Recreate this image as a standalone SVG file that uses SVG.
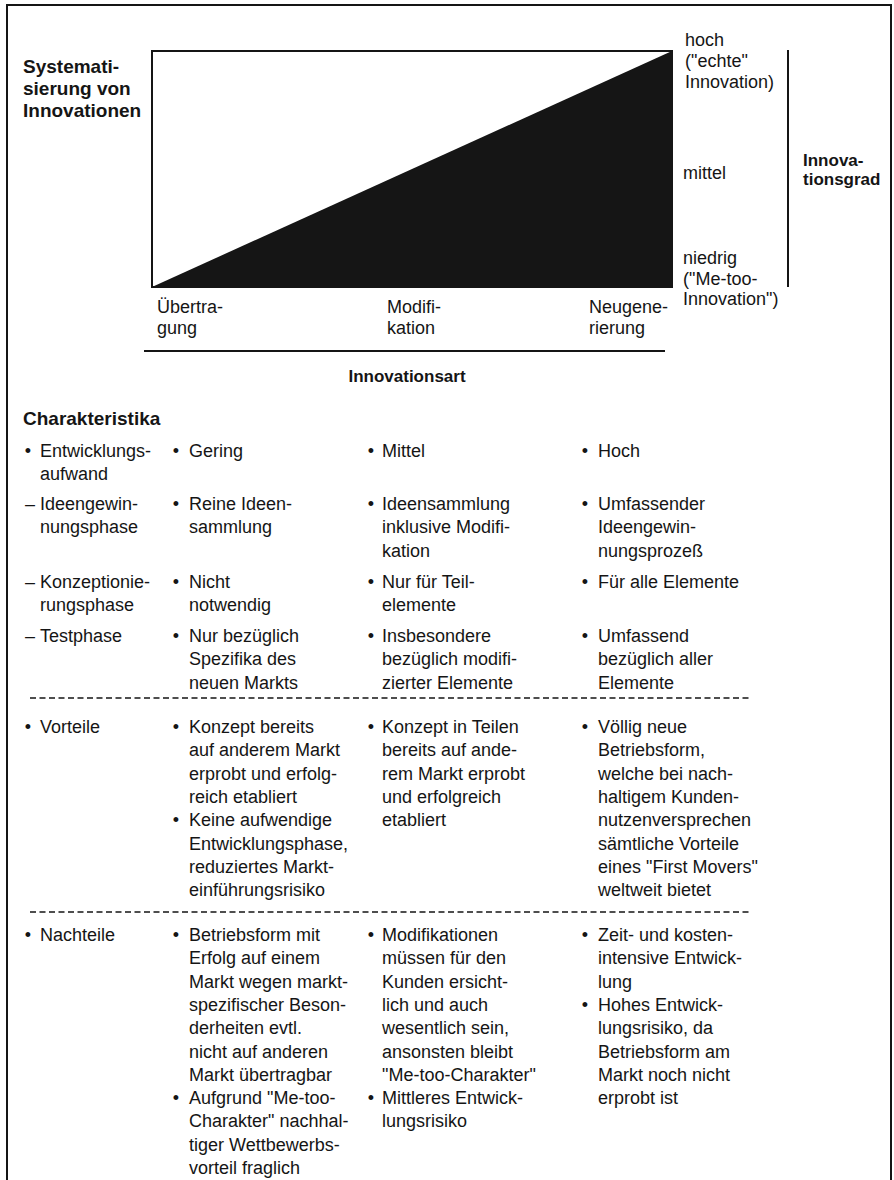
<svg xmlns="http://www.w3.org/2000/svg" width="894" height="1180" viewBox="0 0 894 1180">
<style>
text{font-family:"Liberation Sans",Arial,Helvetica,sans-serif;font-size:18px;fill:#151515}
.b{font-weight:bold}
.h1{font-size:19px;font-weight:bold}
.h2{font-size:17px;font-weight:bold}
.ln{stroke:#151515;stroke-width:2;fill:none}
.dash{stroke:#151515;stroke-width:1.5;stroke-dasharray:6 3.5;fill:none}
.bu{text-anchor:middle}
</style>
<rect x="0" y="0" width="894" height="1180" fill="#fff"/>
<g id="frame">
<path class="ln" d="M7,1180 V5 H891 V1180"/>
</g>
<g id="chart">
<rect x="152" y="51" width="520" height="236" class="ln"/>
<polygon points="152,287 672,51 672,287" fill="#151515"/>
</g>
<g id="title">
<text class="h1" x="23" y="73">Systemati-</text>
<text class="h1" x="23" y="95">sierung von</text>
<text class="h1" x="23" y="117">Innovationen</text>
</g>
<g id="degree-labels">
<text x="685" y="46">hoch</text>
<text x="685" y="67">("echte"</text>
<text x="685" y="88">Innovation)</text>
<text x="683" y="179">mittel</text>
<text x="683" y="264">niedrig</text>
<text x="683" y="285">("Me-too-</text>
<text x="683" y="305">Innovation")</text>
</g>
<g id="degree-axis">
<line class="ln" x1="788" y1="50" x2="788" y2="287"/>
<text class="h2" x="803" y="166">Innova-</text>
<text class="h2" x="803" y="185">tionsgrad</text>
</g>
<g id="type-labels">
<text x="157" y="313">Übertra-</text>
<text x="157" y="334">gung</text>
<text x="387" y="313">Modifi-</text>
<text x="387" y="334">kation</text>
<text x="589" y="313">Neugene-</text>
<text x="589" y="334">rierung</text>
</g>
<g id="type-axis">
<line class="ln" x1="144" y1="351" x2="665" y2="351"/>
<text class="h2" x="407" y="382" text-anchor="middle">Innovationsart</text>
</g>
<g id="table-head">
<text class="b" x="23" y="425" style="font-size:19px">Charakteristika</text>
</g>
<g id="connectors">
<line class="dash" x1="30" y1="698" x2="750" y2="698"/>
<line class="dash" x1="30" y1="912" x2="750" y2="912"/>
</g>
<g id="row-aufwand">
<text class="bu" x="28" y="457">•</text>
<text x="40" y="457">Entwicklungs-</text>
<text x="40" y="480">aufwand</text>
<text class="bu" x="176" y="457">•</text>
<text x="189" y="457">Gering</text>
<text class="bu" x="371" y="457">•</text>
<text x="382" y="457">Mittel</text>
<text class="bu" x="585" y="457">•</text>
<text x="598" y="457">Hoch</text>
</g>
<g id="row-ideen">
<text x="25" y="510">–</text>
<text x="40" y="510">Ideengewin-</text>
<text x="40" y="533">nungsphase</text>
<text class="bu" x="176" y="510">•</text>
<text x="189" y="510">Reine Ideen-</text>
<text x="189" y="533">sammlung</text>
<text class="bu" x="371" y="510">•</text>
<text x="382" y="510">Ideensammlung</text>
<text x="382" y="533">inklusive Modifi-</text>
<text x="382" y="557">kation</text>
<text class="bu" x="585" y="510">•</text>
<text x="598" y="510">Umfassender</text>
<text x="598" y="533">Ideengewin-</text>
<text x="598" y="557">nungsprozeß</text>
</g>
<g id="row-konzept">
<text x="25" y="588">–</text>
<text x="40" y="588">Konzeptionie-</text>
<text x="40" y="611">rungsphase</text>
<text class="bu" x="176" y="588">•</text>
<text x="189" y="588">Nicht</text>
<text x="189" y="611">notwendig</text>
<text class="bu" x="371" y="588">•</text>
<text x="382" y="588">Nur für Teil-</text>
<text x="382" y="611">elemente</text>
<text class="bu" x="585" y="588">•</text>
<text x="598" y="588">Für alle Elemente</text>
</g>
<g id="row-test">
<text x="25" y="642">–</text>
<text x="40" y="642">Testphase</text>
<text class="bu" x="176" y="642">•</text>
<text x="189" y="642">Nur bezüglich</text>
<text x="189" y="665">Spezifika des</text>
<text x="189" y="689">neuen Markts</text>
<text class="bu" x="371" y="642">•</text>
<text x="382" y="642">Insbesondere</text>
<text x="382" y="665">bezüglich modifi-</text>
<text x="382" y="689">zierter Elemente</text>
<text class="bu" x="585" y="642">•</text>
<text x="598" y="642">Umfassend</text>
<text x="598" y="665">bezüglich aller</text>
<text x="598" y="689">Elemente</text>
</g>
<g id="row-vorteile">
<text class="bu" x="28" y="733">•</text>
<text x="40" y="733">Vorteile</text>
<text class="bu" x="176" y="733">•</text>
<text x="189" y="733">Konzept bereits</text>
<text x="189" y="756">auf anderem Markt</text>
<text x="189" y="780">erprobt und erfolg-</text>
<text x="189" y="803">reich etabliert</text>
<text class="bu" x="176" y="826">•</text>
<text x="189" y="826">Keine aufwendige</text>
<text x="189" y="850">Entwicklungsphase,</text>
<text x="189" y="873">reduziertes Markt-</text>
<text x="189" y="896">einführungsrisiko</text>
<text class="bu" x="371" y="733">•</text>
<text x="382" y="733">Konzept in Teilen</text>
<text x="382" y="756">bereits auf ande-</text>
<text x="382" y="780">rem Markt erprobt</text>
<text x="382" y="803">und erfolgreich</text>
<text x="382" y="826">etabliert</text>
<text class="bu" x="585" y="733">•</text>
<text x="598" y="733">Völlig neue</text>
<text x="598" y="756">Betriebsform,</text>
<text x="598" y="780">welche bei nach-</text>
<text x="598" y="803">haltigem Kunden-</text>
<text x="598" y="826">nutzenversprechen</text>
<text x="598" y="850">sämtliche Vorteile</text>
<text x="598" y="873">eines "First Movers"</text>
<text x="598" y="896">weltweit bietet</text>
</g>
<g id="row-nachteile">
<text class="bu" x="28" y="941">•</text>
<text x="40" y="941">Nachteile</text>
<text class="bu" x="176" y="941">•</text>
<text x="189" y="941">Betriebsform mit</text>
<text x="189" y="964">Erfolg auf einem</text>
<text x="189" y="988">Markt wegen markt-</text>
<text x="189" y="1011">spezifischer Beson-</text>
<text x="189" y="1034">derheiten evtl.</text>
<text x="189" y="1058">nicht auf anderen</text>
<text x="189" y="1081">Markt übertragbar</text>
<text class="bu" x="176" y="1104">•</text>
<text x="189" y="1104">Aufgrund "Me-too-</text>
<text x="189" y="1127">Charakter" nachhal-</text>
<text x="189" y="1151">tiger Wettbewerbs-</text>
<text x="189" y="1174">vorteil fraglich</text>
<text class="bu" x="371" y="941">•</text>
<text x="382" y="941">Modifikationen</text>
<text x="382" y="964">müssen für den</text>
<text x="382" y="988">Kunden ersicht-</text>
<text x="382" y="1011">lich und auch</text>
<text x="382" y="1034">wesentlich sein,</text>
<text x="382" y="1058">ansonsten bleibt</text>
<text x="382" y="1081">"Me-too-Charakter"</text>
<text class="bu" x="371" y="1104">•</text>
<text x="382" y="1104">Mittleres Entwick-</text>
<text x="382" y="1127">lungsrisiko</text>
<text class="bu" x="585" y="941">•</text>
<text x="598" y="941">Zeit- und kosten-</text>
<text x="598" y="964">intensive Entwick-</text>
<text x="598" y="988">lung</text>
<text class="bu" x="585" y="1011">•</text>
<text x="598" y="1011">Hohes Entwick-</text>
<text x="598" y="1034">lungsrisiko, da</text>
<text x="598" y="1058">Betriebsform am</text>
<text x="598" y="1081">Markt noch nicht</text>
<text x="598" y="1104">erprobt ist</text>
</g>
</svg>
